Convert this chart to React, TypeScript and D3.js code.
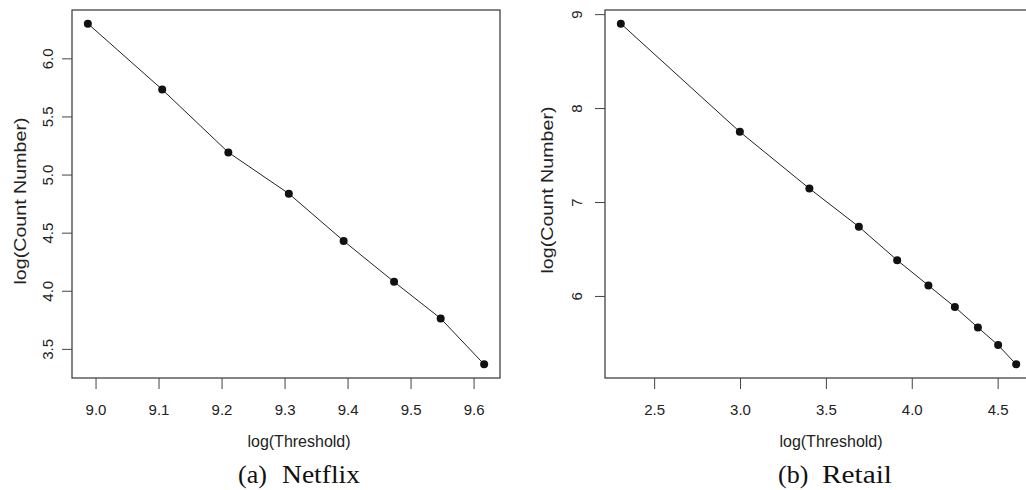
import React, { useRef, useEffect } from "react";
import * as d3 from "d3";

// values
const netflixX = [8.987, 9.105, 9.21, 9.306, 9.393, 9.473, 9.547, 9.616];
const netflixY = [6.303, 5.736, 5.195, 4.84, 4.433, 4.081, 3.766, 3.371];
const netflixXTicks = [9.0, 9.1, 9.2, 9.3, 9.4, 9.5, 9.6];
const netflixYTicks = [3.5, 4.0, 4.5, 5.0, 5.5, 6.0];

const retailX = [2.303, 2.996, 3.401, 3.689, 3.912, 4.094, 4.248, 4.382, 4.5, 4.605];
const retailY = [8.904, 7.752, 7.149, 6.742, 6.386, 6.117, 5.887, 5.67, 5.482, 5.277];
const retailXTicks = [2.5, 3.0, 3.5, 4.0, 4.5];
const retailYTicks = [6, 7, 8, 9];

const captions = [
  { tag: "(a)", name: "Netflix" },
  { tag: "(b)", name: "Retail" },
];

const width = 1026;
const height = 490;
const sans = "'Liberation Sans', Arial, sans-serif";
const serif = "'Liberation Serif', 'Times New Roman', serif";

// R-style axis range: data extent padded by 4%
const pad = (vals: number[]) => {
  const [lo, hi] = d3.extent(vals) as [number, number];
  const d = (hi - lo) * 0.04;
  return [lo - d, hi + d];
};

const App = () => {
  const ref = useRef<SVGSVGElement>(null);

  useEffect(() => {
    const svg = d3.select(ref.current);
    svg.selectAll("*").remove();

    const panels = [
      {
        xs: netflixX, ys: netflixY, xt: netflixXTicks, yt: netflixYTicks,
        left: 72, right: 500, fmtY: d3.format(".1f"), cap: captions[0],
        yLabX: 53, yTitleX: 26, yTitleY: 201, xTitleX: 299,
        capTag: 238, capName: 282, capLen: 78,
      },
      {
        xs: retailX, ys: retailY, xt: retailXTicks, yt: retailYTicks,
        left: 605, right: 1032, fmtY: d3.format("d"), cap: captions[1],
        yLabX: 582, yTitleX: 553, yTitleY: 190, xTitleX: 831,
        capTag: 778, capName: 822, capLen: 70,
      },
    ];
    const top = 10;
    const bottom = 378;

    panels.forEach((p) => {
      const x = d3.scaleLinear().domain(pad(p.xs)).range([p.left, p.right]);
      const y = d3.scaleLinear().domain(pad(p.ys)).range([bottom, top]);
      const g = svg.append("g");

      // box
      g.append("rect")
        .attr("x", p.left)
        .attr("y", top)
        .attr("width", p.right - p.left)
        .attr("height", bottom - top)
        .attr("fill", "none")
        .attr("stroke", "#444")
        .attr("stroke-width", 1.3);

      // x ticks
      g.selectAll(".xt")
        .data(p.xt)
        .join("line")
        .attr("x1", (d) => x(d))
        .attr("x2", (d) => x(d))
        .attr("y1", bottom)
        .attr("y2", bottom + 11)
        .attr("stroke", "#444");

      g.selectAll(".xl")
        .data(p.xt)
        .join("text")
        .attr("x", (d) => x(d))
        .attr("y", 415)
        .attr("text-anchor", "middle")
        .attr("font-family", sans)
        .attr("font-size", 15)
        .attr("fill", "#222")
        .text((d) => d3.format(".1f")(d));

      // y ticks
      g.selectAll(".yt")
        .data(p.yt)
        .join("line")
        .attr("x1", p.left)
        .attr("x2", p.left - 10)
        .attr("y1", (d) => y(d))
        .attr("y2", (d) => y(d))
        .attr("stroke", "#444");

      g.selectAll(".yl")
        .data(p.yt)
        .join("text")
        .attr("transform", (d) => `translate(${p.yLabX},${y(d)}) rotate(-90)`)
        .attr("text-anchor", "middle")
        .attr("font-family", sans)
        .attr("font-size", 15)
        .attr("fill", "#222")
        .text((d) => p.fmtY(d));

      // axis titles
      g.append("text")
        .attr("x", p.xTitleX)
        .attr("y", 447)
        .attr("text-anchor", "middle")
        .attr("font-family", sans)
        .attr("font-size", 16)
        .attr("fill", "#222")
        .text("log(Threshold)");

      g.append("text")
        .attr("transform", `translate(${p.yTitleX},${p.yTitleY}) rotate(-90)`)
        .attr("text-anchor", "middle")
        .attr("font-family", sans)
        .attr("font-size", 16)
        .attr("textLength", 167)
        .attr("lengthAdjust", "spacingAndGlyphs")
        .attr("fill", "#222")
        .text("log(Count Number)");

      // line + points
      const pts = p.xs.map((v, i) => [v, p.ys[i]] as [number, number]);
      const line = d3
        .line<[number, number]>()
        .x((d) => x(d[0]))
        .y((d) => y(d[1]));

      g.append("path")
        .datum(pts)
        .attr("fill", "none")
        .attr("stroke", "#222")
        .attr("stroke-width", 1)
        .attr("d", line);

      g.selectAll("circle")
        .data(pts)
        .join("circle")
        .attr("cx", (d) => x(d[0]))
        .attr("cy", (d) => y(d[1]))
        .attr("r", 4)
        .attr("fill", "#111");

      // caption
      g.append("text")
        .attr("x", p.capTag)
        .attr("y", 483)
        .attr("font-family", serif)
        .attr("font-size", 26)
        .attr("fill", "#111")
        .text(p.cap.tag);

      g.append("text")
        .attr("x", p.capName)
        .attr("y", 483)
        .attr("font-family", serif)
        .attr("font-size", 26)
        .attr("textLength", p.capLen)
        .attr("lengthAdjust", "spacingAndGlyphs")
        .attr("fill", "#111")
        .text(p.cap.name);
    });
  }, []);

  return (
    <svg
      ref={ref}
      width={width}
      height={height}
      style={{ position: "absolute", left: 0, top: 0, background: "#fff" }}
    ></svg>
  );
};

export default App;
